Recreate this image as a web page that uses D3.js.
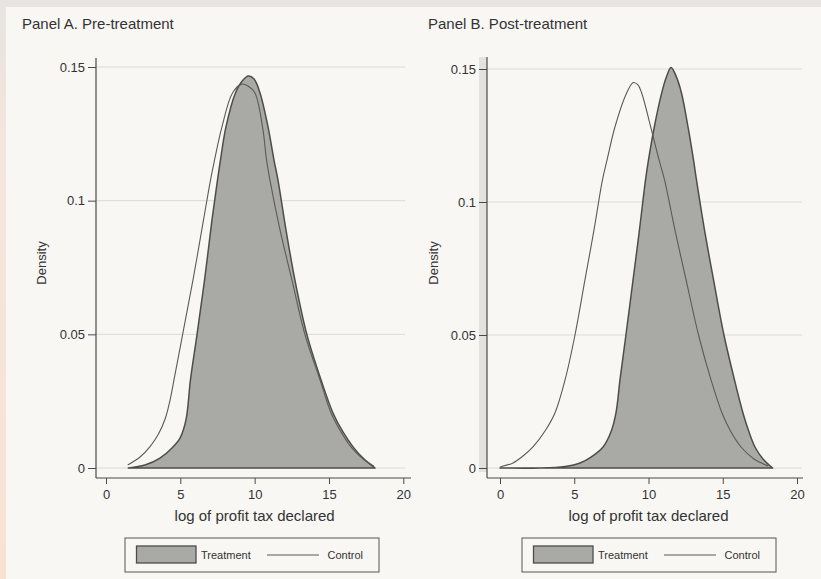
<!DOCTYPE html>
<html>
<head>
<meta charset="utf-8">
<script src="https://cdn.jsdelivr.net/npm/d3@7"></script>
<style>
  html, body { margin: 0; padding: 0; background: #e7e4e1; }
  svg { display: block; }
  text { font-family: "Liberation Sans", Arial, Helvetica, sans-serif; fill: #333; }
  .tick text { font-size: 13px; fill: #333; }
</style>
</head>
<body>
<script>
// ---- data ----
const panelTitles = ["Panel A. Pre-treatment", "Panel B. Post-treatment"];
const seriesNames = ["Treatment", "Control"];
const xTicks = [0, 5, 10, 15, 20];
const yTicks = [0, 0.05, 0.1, 0.15];
const xTitle = "log of profit tax declared";
const yTitle = "Density";

// Panel A, treatment (kernel density of log profit tax)
const preTreatX = [1.5, 2.62, 3.63, 4.44, 4.98, 5.38, 5.68, 6.12, 6.63, 7.13, 7.50, 7.70, 8.07, 8.71, 9.22, 9.57,
  9.96, 10.36, 10.90, 11.30, 11.57, 12.11, 12.71, 13.52, 14.47, 15.27, 15.94, 16.62, 17.29, 18.1];
const preTreatY = [0.0, 0.0011, 0.0037, 0.0075, 0.0112, 0.0180, 0.0329, 0.0498, 0.0703, 0.0928, 0.1077, 0.1152, 0.1276, 0.1403, 0.1451, 0.1466,
  0.1455, 0.1403, 0.1276, 0.1152, 0.1077, 0.0890, 0.0703, 0.0498, 0.0329, 0.0206, 0.0135, 0.0079, 0.0037, 0.0];
// Panel A, control
const preCtrlX = [1.46, 2.29, 2.99, 3.53, 4.00, 4.31, 4.57, 5.15, 5.85, 6.56, 7.03, 7.30, 7.80, 8.51, 9.13, 9.55,
  10.02, 10.53, 10.80, 11.03, 11.71, 12.51, 13.39, 14.40, 15.14, 15.81, 16.48, 17.22, 18.03];
const preCtrlY = [0.0011, 0.0041, 0.0082, 0.0127, 0.0187, 0.0254, 0.0329, 0.0498, 0.0703, 0.0928, 0.1077, 0.1152, 0.1276, 0.1403, 0.1436, 0.1429,
  0.1403, 0.1276, 0.1152, 0.1077, 0.0890, 0.0703, 0.0498, 0.0329, 0.0206, 0.0135, 0.0079, 0.0037, 0.0007];
// Panel B, treatment
const postTreatX = [0, 2.69, 4.38, 5.39, 6.13, 6.94, 7.47, 7.81, 8.08, 8.48, 8.96, 9.39, 9.80, 10.0, 10.39, 10.89, 11.18, 11.52,
  11.85, 12.22, 12.66, 13.03, 13.23, 13.77, 14.38, 15.08, 15.79, 16.36, 16.77, 17.17, 17.71, 18.36];
const postTreatY = [0.0, 0.0, 0.0006, 0.0019, 0.0041, 0.0079, 0.0135, 0.0207, 0.0331, 0.0500, 0.0707, 0.0895, 0.1083, 0.1158, 0.1282, 0.1410, 0.1466, 0.1506,
  0.1474, 0.1410, 0.1282, 0.1158, 0.1083, 0.0895, 0.0707, 0.0500, 0.0331, 0.0207, 0.0135, 0.0079, 0.0034, 0.0];
// Panel B, control
const postCtrlX = [0, 0.88, 1.55, 2.22, 3.03, 3.70, 4.38, 5.05, 5.72, 6.33, 6.90, 7.21, 7.74, 8.53, 8.98, 9.29, 9.54,
  10.15, 10.71, 11.08, 11.78, 12.53, 13.37, 14.21, 14.95, 15.56, 16.23, 17.10, 18.05];
const postCtrlY = [0.0004, 0.0019, 0.0045, 0.0079, 0.0139, 0.0207, 0.0331, 0.0500, 0.0707, 0.0895, 0.1083, 0.1158, 0.1282, 0.1410, 0.1449, 0.1440, 0.1410,
  0.1282, 0.1158, 0.1083, 0.0895, 0.0707, 0.0500, 0.0331, 0.0207, 0.0135, 0.0079, 0.0034, 0.0008];

const zip = (xs, ys) => xs.map((x, i) => ({x: x, y: ys[i]}));

// ---- layout ----
const width = 821, height = 579;
const panels = [
  {title: panelTitles[0], treat: zip(preTreatX, preTreatY), ctrl: zip(preCtrlX, preCtrlY),
   axisX: 96, xRange: [106, 403.3], yRange: [468, 67], axisTop: 58, axisBottom: 478, axisRight: 411, gridRight: 405,
   titleX: 22, yTitleX: 46, legendX: 125, strip: false},
  {title: panelTitles[1], treat: zip(postTreatX, postTreatY), ctrl: zip(postCtrlX, postCtrlY),
   axisX: 487, xRange: [500, 797], yRange: [468, 69], axisTop: 57, axisBottom: 478, axisRight: 803, gridRight: 802,
   titleX: 428, yTitleX: 437.5, legendX: 522, strip: true}
];

const fillGray = "#a9a9a6", outline = "#4d4d4d", ctrlColor = "#5a5a5a", gridColor = "#dadad6", axisColor = "#4a4a4a";

const svg = d3.select("body").append("svg")
  .attr("width", width)
  .attr("height", height);

// scanned page look
const defs = svg.append("defs");
const grad = defs.append("linearGradient").attr("id", "edge").attr("x1", 0).attr("y1", 0).attr("x2", 0).attr("y2", 1);
grad.append("stop").attr("offset", "0%").attr("stop-color", "#e7e4e1");
grad.append("stop").attr("offset", "25%").attr("stop-color", "#f3e6dc");
grad.append("stop").attr("offset", "100%").attr("stop-color", "#f7e3d4");
svg.append("rect").attr("x", 0).attr("y", 0).attr("width", width).attr("height", height).attr("fill", "#e7e4e1");
svg.append("rect").attr("x", 0).attr("y", 7).attr("width", 6).attr("height", height - 7).attr("fill", "url(#edge)");
svg.append("rect").attr("x", 6).attr("y", 7).attr("width", width - 6).attr("height", height - 7).attr("fill", "#f8f7f3");

const smooth = d3.curveCatmullRom.alpha(0.5);

panels.forEach(p => {
  const g = svg.append("g");
  const x = d3.scaleLinear().domain([0, 20]).range(p.xRange);
  const y = d3.scaleLinear().domain([0, 0.15]).range(p.yRange);

  if (p.strip) {
    g.append("rect")
      .attr("x", p.axisX - 8).attr("y", p.axisTop).attr("width", 8).attr("height", p.axisBottom - p.axisTop - 6)
      .attr("fill", "#e3e2de");
  }

  // gridlines
  g.selectAll("line.grid").data(yTicks).enter().append("line")
    .attr("class", "grid")
    .attr("x1", p.axisX).attr("x2", p.gridRight)
    .attr("y1", d => y(d)).attr("y2", d => y(d))
    .attr("stroke", gridColor).attr("stroke-width", 1);

  // y axis
  const yAxis = g.append("g")
    .attr("transform", `translate(${p.axisX},0)`)
    .call(d3.axisLeft(y).tickValues(yTicks).tickFormat(d => d === 0 ? "0" : String(d)).tickSize(8).tickPadding(3));
  yAxis.select(".domain").remove();
  yAxis.selectAll(".tick line").attr("stroke", axisColor);
  g.append("line")
    .attr("x1", p.axisX).attr("x2", p.axisX).attr("y1", p.axisTop).attr("y2", p.axisBottom)
    .attr("stroke", axisColor).attr("stroke-width", 1.2);

  // x axis
  const xAxis = g.append("g")
    .attr("transform", `translate(0,${p.axisBottom})`)
    .call(d3.axisBottom(x).tickValues(xTicks).tickSize(6).tickPadding(6));
  xAxis.select(".domain").remove();
  xAxis.selectAll(".tick line").attr("stroke", axisColor);
  g.append("line")
    .attr("x1", p.axisX).attr("x2", p.axisRight).attr("y1", p.axisBottom).attr("y2", p.axisBottom)
    .attr("stroke", axisColor).attr("stroke-width", 1.2);

  // treatment density (filled)
  const area = d3.area().x(d => x(d.x)).y0(y(0)).y1(d => y(d.y)).curve(smooth);
  g.append("path")
    .datum(p.treat)
    .attr("d", area)
    .attr("fill", fillGray)
    .attr("stroke", outline)
    .attr("stroke-width", 1.5)
    .attr("stroke-linejoin", "round");

  // control density (line)
  const line = d3.line().x(d => x(d.x)).y(d => y(d.y)).curve(smooth);
  g.append("path")
    .datum(p.ctrl)
    .attr("d", line)
    .attr("fill", "none")
    .attr("stroke", ctrlColor)
    .attr("stroke-width", 1.1);

  // titles
  g.append("text")
    .attr("x", p.titleX).attr("y", 29)
    .attr("font-size", 15)
    .text(p.title);

  g.append("text")
    .attr("transform", `translate(${p.yTitleX},263) rotate(-90)`)
    .attr("text-anchor", "middle")
    .attr("font-size", 13)
    .text(yTitle);

  g.append("text")
    .attr("x", (p.xRange[0] + p.xRange[1]) / 2).attr("y", 520.5)
    .attr("text-anchor", "middle")
    .attr("font-size", 15)
    .text(xTitle);

  // legend
  const lg = g.append("g").attr("transform", `translate(${p.legendX},538)`);
  lg.append("rect")
    .attr("width", 254).attr("height", 34)
    .attr("fill", "none").attr("stroke", "#555").attr("stroke-width", 1);
  lg.append("rect")
    .attr("x", 11.5).attr("y", 8).attr("width", 59.5).attr("height", 17)
    .attr("fill", fillGray).attr("stroke", outline).attr("stroke-width", 1.3);
  lg.append("text")
    .attr("x", 76).attr("y", 21)
    .attr("font-size", 11)
    .text(seriesNames[0]);
  lg.append("line")
    .attr("x1", 142).attr("x2", 194).attr("y1", 17).attr("y2", 17)
    .attr("stroke", ctrlColor).attr("stroke-width", 1.1);
  lg.append("text")
    .attr("x", 202.5).attr("y", 21)
    .attr("font-size", 11)
    .text(seriesNames[1]);
});
</script>
</body>
</html>
